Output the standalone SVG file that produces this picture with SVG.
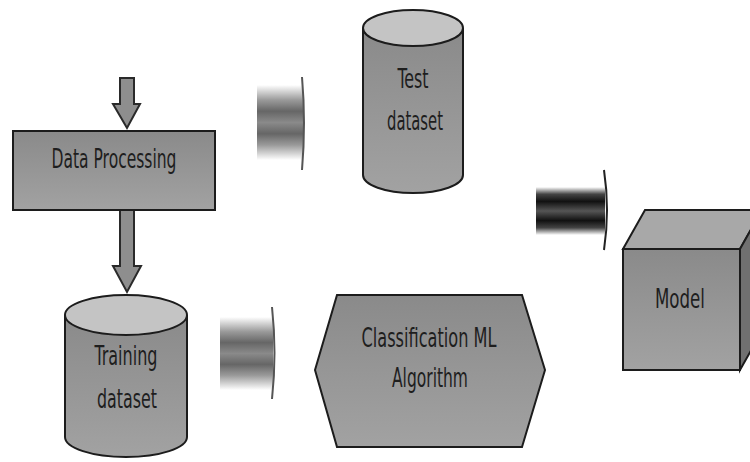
<svg xmlns="http://www.w3.org/2000/svg" width="750" height="462" viewBox="0 0 750 462">
<style>
.shape{stroke:#1c1c1c;stroke-width:2;fill:url(#body)}
.top{stroke:#1c1c1c;stroke-width:2;fill:#c4c4c4}
.lbl{font-family:"DejaVu Sans Condensed","Liberation Sans",sans-serif;font-size:27px;fill:#1e1e1e;text-anchor:middle}
.arr{stroke:#2a2a2a;stroke-width:2;fill:#8e8e8e}
</style>
<defs>
<linearGradient id="body" x1="0" y1="0" x2="0" y2="1">
<stop offset="0" stop-color="#8a8a8a"/>
<stop offset="1" stop-color="#a2a2a2"/>
</linearGradient>
<linearGradient id="blurG" x1="0" y1="0" x2="0" y2="1">
<stop offset="0" stop-color="#ffffff"/>
<stop offset="0.2" stop-color="#9a9a9a"/>
<stop offset="0.35" stop-color="#666"/>
<stop offset="0.5" stop-color="#8a8a8a"/>
<stop offset="0.65" stop-color="#666"/>
<stop offset="0.8" stop-color="#9a9a9a"/>
<stop offset="1" stop-color="#ffffff"/>
</linearGradient>
<linearGradient id="blurD" x1="0" y1="0" x2="0" y2="1">
<stop offset="0" stop-color="#ffffff"/>
<stop offset="0.15" stop-color="#444"/>
<stop offset="0.3" stop-color="#111"/>
<stop offset="0.5" stop-color="#555"/>
<stop offset="0.7" stop-color="#111"/>
<stop offset="0.85" stop-color="#444"/>
<stop offset="1" stop-color="#ffffff"/>
</linearGradient>
</defs>
<g id="connectors">
<path class="arr" d="M120,78 H134 V104 H140 L127,128 L113,104 H120 Z"/>
<path class="arr" d="M120,210 H134 V266 H141 L127,292 L113,266 H120 Z"/>
<g id="arrow-test">
<rect x="257" y="85" width="46" height="75" fill="url(#blurG)"/>
<path d="M302,77 Q306,123 302,170" fill="none" stroke="#555" stroke-width="2"/>
</g>
<g id="arrow-train">
<rect x="220" y="317" width="53" height="73" fill="url(#blurG)"/>
<path d="M272,307 Q277,353 272,399" fill="none" stroke="#555" stroke-width="2"/>
</g>
<g id="arrow-model">
<rect x="536" y="187" width="69" height="48" fill="url(#blurD)"/>
<path d="M604,170 Q610,210 604,250" fill="none" stroke="#222" stroke-width="2"/>
</g>
</g>
<g id="data-processing">
<rect class="shape" x="13" y="131" width="202" height="79"/>
<text class="lbl" x="114" y="168" textLength="125" lengthAdjust="spacingAndGlyphs">Data Processing</text>
</g>
<g id="test-dataset">
<path class="shape" d="M363,28 V175 A50,18 0 0 0 463,175 V28"/>
<ellipse class="top" cx="413" cy="28" rx="50" ry="18"/>
<text class="lbl" x="413" y="88" textLength="31" lengthAdjust="spacingAndGlyphs">Test</text>
<text class="lbl" x="415" y="130" textLength="56" lengthAdjust="spacingAndGlyphs">dataset</text>
</g>
<g id="training-dataset">
<path class="shape" d="M65,315 V437 A61,20 0 0 0 187,437 V315"/>
<ellipse class="top" cx="126" cy="315" rx="61" ry="20"/>
<text class="lbl" x="126" y="365" textLength="63" lengthAdjust="spacingAndGlyphs">Training</text>
<text class="lbl" x="127" y="408" textLength="60" lengthAdjust="spacingAndGlyphs">dataset</text>
</g>
<g id="classification">
<polygon class="shape" points="315,370 337,295 522,295 545,370 522,447 337,447"/>
<text class="lbl" x="429" y="347" textLength="135" lengthAdjust="spacingAndGlyphs">Classification ML</text>
<text class="lbl" x="430" y="387" textLength="76" lengthAdjust="spacingAndGlyphs">Algorithm</text>
</g>
<g id="model">
<polygon points="623,249 645,210 762,210 740,249" stroke="#1c1c1c" stroke-width="2" fill="#a8a8a8"/>
<polygon points="740,249 762,210 762,331 740,370" stroke="#1c1c1c" stroke-width="2" fill="#707070"/>
<rect class="shape" x="623" y="249" width="117" height="121"/>
<text class="lbl" x="680" y="308" textLength="50" lengthAdjust="spacingAndGlyphs">Model</text>
</g>
</svg>
